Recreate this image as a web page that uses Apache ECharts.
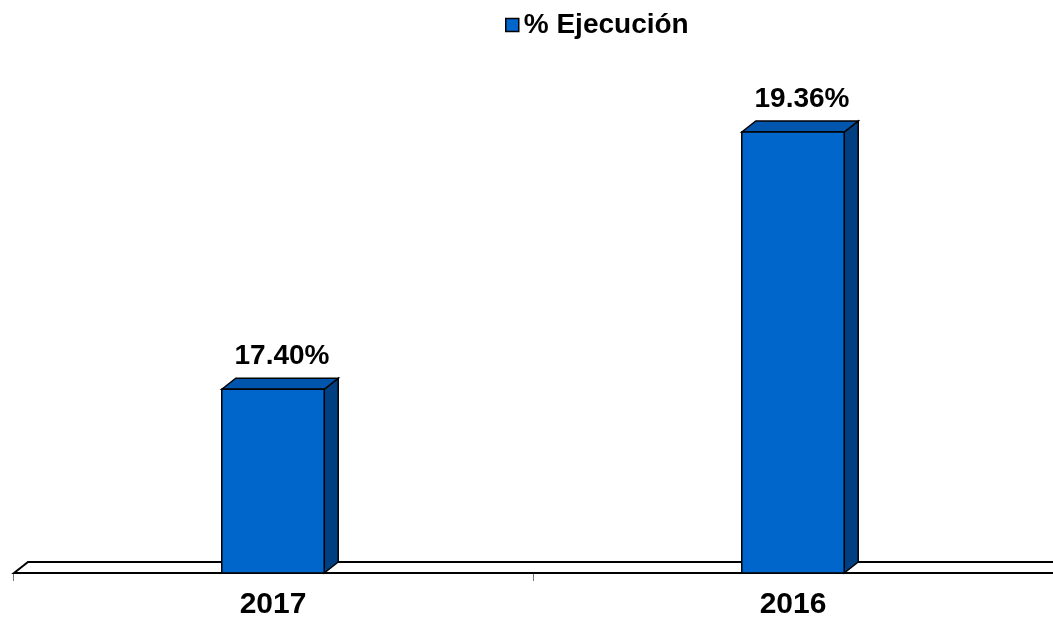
<!DOCTYPE html>
<html>
<head>
<meta charset="utf-8">
<script src="https://cdn.jsdelivr.net/npm/echarts@6/dist/echarts.min.js"></script>
<style>
  html, body { margin: 0; padding: 0; background: #fff; }
  #chart { width: 1053px; height: 625px; }
</style>
</head>
<body>
<div id="chart"></div>
<script>
var years = ['2017', '2016']
var ejecucion = [17.40, 19.36]
var seriesName = '% Ejecución'
var yMin = 16
var yMax = 20

// depth of the fake 3d effect, in px
var DX = 14
var DY = 11

var myChart = echarts.init(document.getElementById('chart'))

function renderFloor (params, api) {
  var cs = params.coordSys
  var by = api.coord([0, yMin])[1]
  var left = cs.x + 1
  var right = cs.x + cs.width + 40
  return {
    type: 'polygon',
    shape: {
      points: [[left, by], [left + DX, by - DY], [right, by - DY], [right, by]]
    },
    style: { fill: '#fff', stroke: '#000', lineWidth: 2 }
  }
}

function renderBar (params, api) {
  var top = api.coord([api.value(0), api.value(1)])
  var base = api.coord([api.value(0), yMin])
  var band = api.size([1, 0])[0]
  var w = band * 0.197
  var x0 = top[0] - w / 2
  var x1 = x0 + w
  var line = { stroke: '#000', lineWidth: 1.5 }
  return {
    type: 'group',
    children: [
      {
        type: 'polygon',
        shape: { points: [[x1, top[1]], [x1 + DX, top[1] - DY], [x1 + DX, base[1] - DY], [x1, base[1]]] },
        style: Object.assign({ fill: '#003F82' }, line)
      },
      {
        type: 'polygon',
        shape: { points: [[x0, top[1]], [x0 + DX, top[1] - DY], [x1 + DX, top[1] - DY], [x1, top[1]]] },
        style: Object.assign({ fill: '#0056AD' }, line)
      },
      {
        type: 'rect',
        shape: { x: x0, y: top[1], width: w, height: base[1] - top[1] },
        style: Object.assign({ fill: '#0066CC' }, line)
      },
      {
        type: 'text',
        x: top[0] + DX / 2 + 2,
        y: top[1] - DY - 8,
        style: {
          text: api.value(1).toFixed(2) + '%',
          textAlign: 'center',
          textVerticalAlign: 'bottom',
          fill: '#000',
          font: 'bold 28px "Liberation Sans", Arial, sans-serif'
        }
      }
    ]
  }
}

var option = {
  animation: false,
  legend: {
    left: 505,
    top: 11,
    padding: 0,
    itemWidth: 13,
    itemHeight: 13,
    itemGap: 8,
    data: [{
      name: seriesName,
      icon: 'rect',
      itemStyle: { color: '#0066CC', borderColor: '#000', borderWidth: 1.5 }
    }],
    textStyle: {
      color: '#000',
      fontSize: 28,
      fontWeight: 'bold',
      fontFamily: '"Liberation Sans", Arial, sans-serif'
    }
  },
  grid: {
    left: 13,
    right: -5,
    top: 48,
    bottom: 52,
    containLabel: false
  },
  xAxis: {
    type: 'category',
    data: years,
    axisLine: { show: false },
    axisTick: { show: true, length: 8, lineStyle: { color: '#777', width: 1 } },
    axisLabel: {
      margin: 17,
      color: '#000',
      fontSize: 30,
      fontWeight: 'bold',
      fontFamily: '"Liberation Sans", Arial, sans-serif'
    },
    splitLine: { show: false }
  },
  yAxis: {
    type: 'value',
    min: yMin,
    max: yMax,
    show: false
  },
  series: [
    {
      name: 'floor',
      type: 'custom',
      z: 1,
      silent: true,
      renderItem: renderFloor,
      data: [[0, yMin]]
    },
    {
      name: seriesName,
      type: 'custom',
      z: 2,
      itemStyle: { color: '#0066CC' },
      renderItem: renderBar,
      encode: { x: 0, y: 1 },
      data: years.map(function (y, i) { return [i, ejecucion[i]] })
    }
  ]
}

myChart.setOption(option)
</script>
</body>
</html>
